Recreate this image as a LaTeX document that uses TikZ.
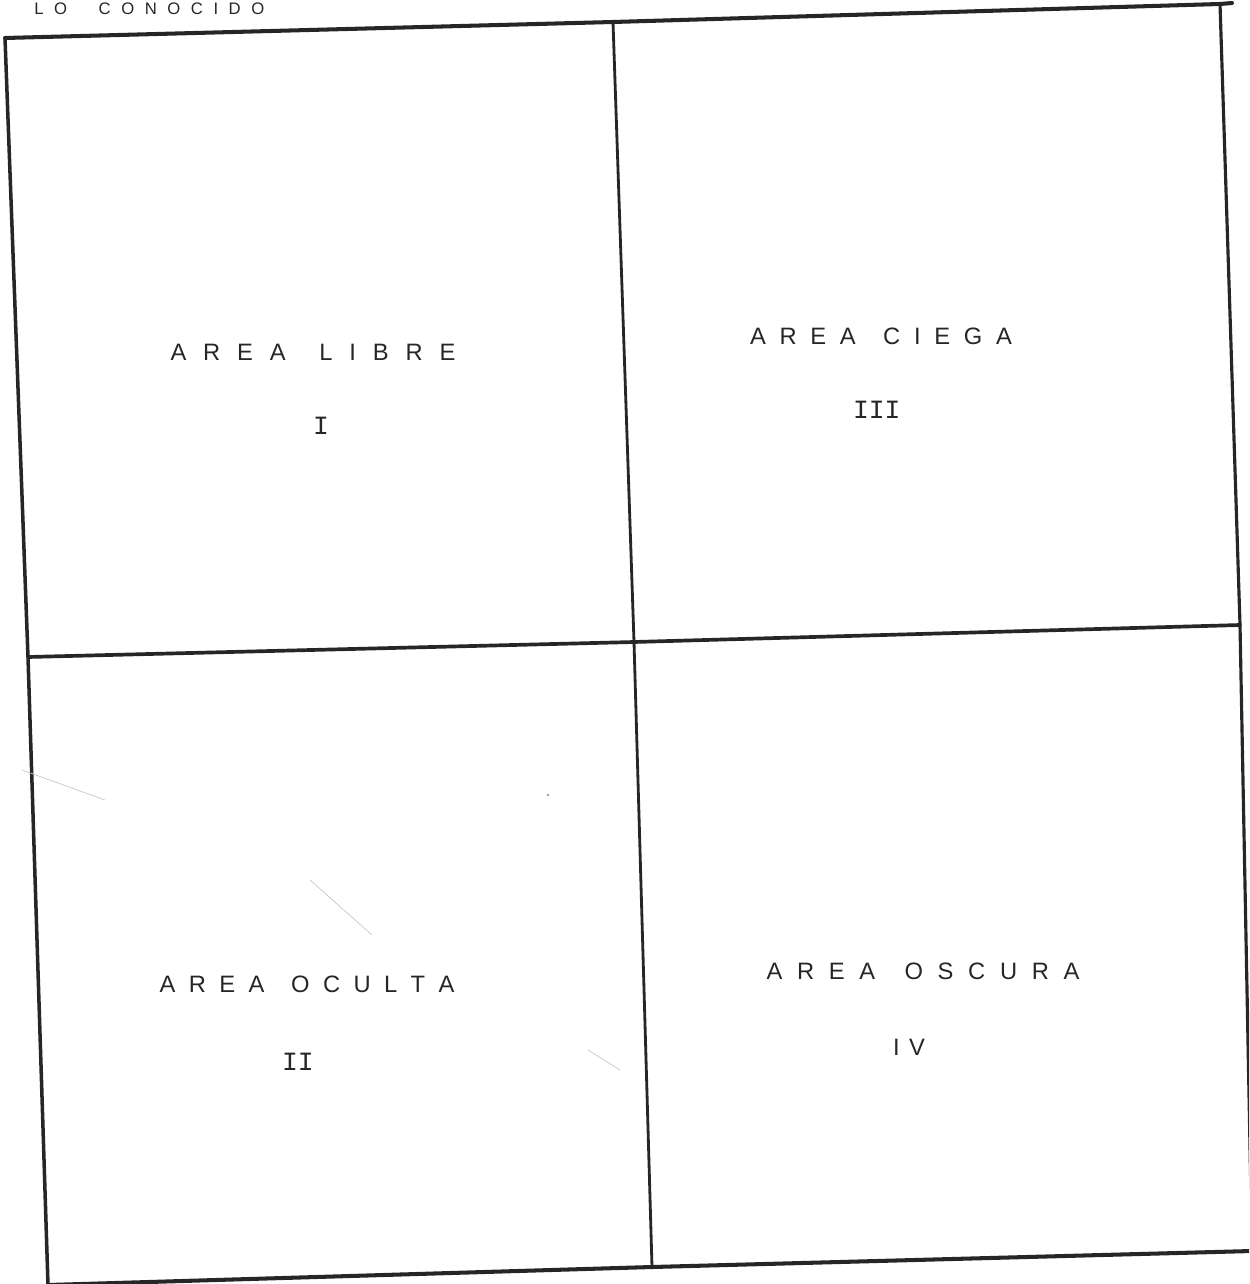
\documentclass[tikz,border=0pt]{standalone}
\usepackage{fontspec}
\setmainfont{Liberation Sans}
\newfontfamily\typemono{Liberation Mono}
\newcommand{\spreadtxt}[2]{\makebox[#1][s]{#2}}
\begin{document}
\begin{tikzpicture}[x=0.02cm,y=-0.02cm,
  frame/.style={draw=black!85,line cap=round,line join=round},
  lbl/.style={font=\fontsize{13.5}{16}\selectfont,inner sep=0pt,text=black!85},
  num/.style={font=\typemono\fontsize{15}{16}\selectfont,inner sep=0pt,text=black!85},
  scan/.style={draw=black!22,line width=0.4pt}]
\useasboundingbox (0,0) rectangle (1249,1284);
\begin{scope}
\clip (0,0) rectangle (1249,1284);
% corners and crossings
\coordinate (tl) at (5,38);
\coordinate (tm) at (613,22);
\coordinate (tr) at (1220,4);
\coordinate (ml) at (28,657);
\coordinate (mm) at (634,642);
\coordinate (mr) at (1240,625);
\coordinate (bl) at (48,1285);
\coordinate (bm) at (652,1267);
\coordinate (br) at (1252,1251);
\coordinate (tx) at (1232,3);
% outer frame
\draw[frame,line width=2.3pt] (tl) -- (tm) -- (tr) -- (tx);
\draw[frame,line width=2.0pt] (tl) -- (ml) -- (bl);
\draw[frame,line width=2.3pt] (bl) -- (bm) -- (br);
\draw[frame,line width=1.8pt] (tr) -- (mr) -- (br);
% cross
\draw[frame,line width=2.1pt] (ml) -- (mm) -- (mr);
\draw[frame,line width=1.6pt] (tm) -- (mm) -- (bm);
% faint scan marks
\draw[scan] (22,770) -- (105,800);
\draw[scan] (310,880) -- (372,935);
\draw[scan] (588,1050) -- (620,1070);
\fill[black!50] (548,795) circle (1.2);
\end{scope}
% header (partly cut in the scan)
\node[font=\fontsize{9.5}{11}\selectfont,inner sep=0pt,text=black!85,anchor=base west] (head) at (34,15) {\spreadtxt{4.6cm}{L\hfill O\hfill\hfill\hfill C\hfill O\hfill N\hfill O\hfill C\hfill I\hfill D\hfill O}};
% labels
\node[lbl] (t1) at (313,352) {\spreadtxt{5.7cm}{A\hfill R\hfill E\hfill A\hfill\hfill L\hfill I\hfill B\hfill R\hfill E}};
\node[num] (n1) at (321,426) {I};
\node[lbl] (t3) at (881,336) {\spreadtxt{5.24cm}{A\hfill R\hfill E\hfill A\hfill\hfill C\hfill I\hfill E\hfill G\hfill A}};
\node[num] (n3) at (874,410) {\makebox[0.84cm][s]{I\hfill I\hfill I}};
\node[lbl] (t2) at (307,984) {\spreadtxt{5.9cm}{A\hfill R\hfill E\hfill A\hfill\hfill O\hfill C\hfill U\hfill L\hfill T\hfill A}};
\node[num] (n2) at (296,1062) {\makebox[0.56cm][s]{I\hfill I}};
\node[lbl] (t4) at (923,971) {\spreadtxt{6.26cm}{A\hfill R\hfill E\hfill A\hfill\hfill O\hfill S\hfill C\hfill U\hfill R\hfill A}};
\node[lbl] (n4) at (909,1047) {\makebox[0.64cm][s]{I\hfill V}};
\end{tikzpicture}
\end{document}
